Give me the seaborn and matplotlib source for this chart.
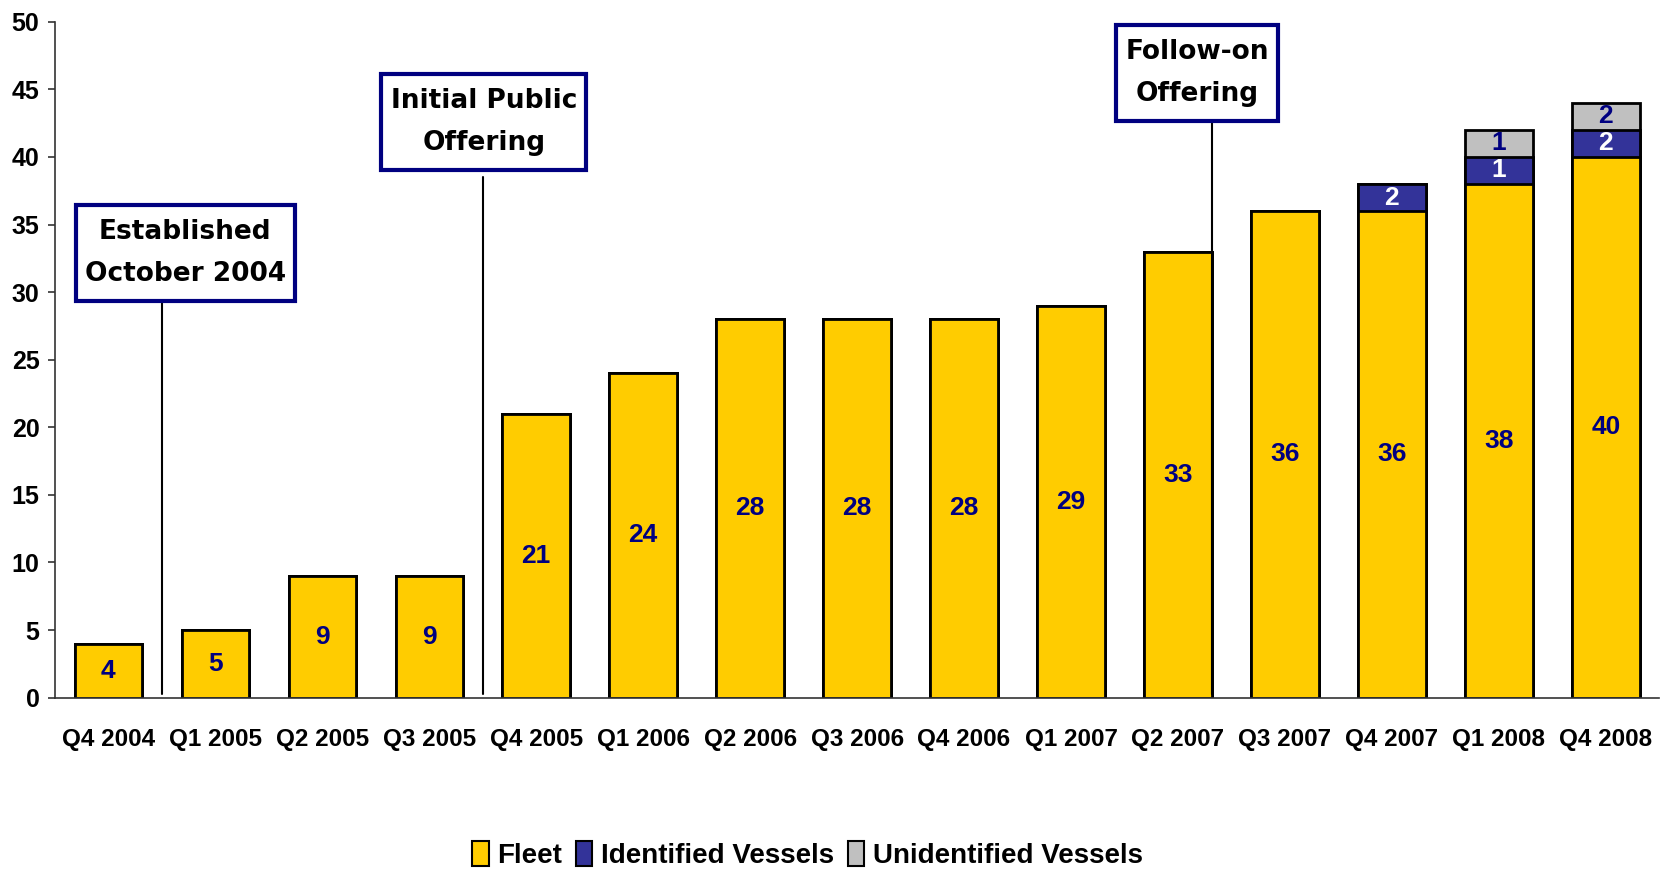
import matplotlib
matplotlib.use("Agg")
import matplotlib.pyplot as plt
import seaborn as sns
import pandas as pd
import numpy as np
from matplotlib.patches import Patch

quarters = ["Q4 2004", "Q1 2005", "Q2 2005", "Q3 2005", "Q4 2005", "Q1 2006",
            "Q2 2006", "Q3 2006", "Q4 2006", "Q1 2007", "Q2 2007", "Q3 2007",
            "Q4 2007", "Q1 2008", "Q4 2008"]
fleet = [4, 5, 9, 9, 21, 24, 28, 28, 28, 29, 33, 36, 36, 38, 40]
# segment heights as drawn in the chart
identified = [0, 0, 0, 0, 0, 0, 0, 0, 0, 0, 0, 0, 2, 2, 2]
unidentified = [0, 0, 0, 0, 0, 0, 0, 0, 0, 0, 0, 0, 0, 2, 2]
# segment labels as printed in the chart
identified_labels = ["", "", "", "", "", "", "", "", "", "", "", "", "2", "1", "2"]
unidentified_labels = ["", "", "", "", "", "", "", "", "", "", "", "", "", "1", "2"]
series_names = ["Fleet", "Identified Vessels", "Unidentified Vessels"]
series_colors = ["#FFCC00", "#333399", "#C0C0C0"]
label_colors = ["#000080", "white", "#000080"]
events = ["Established\nOctober 2004", "Initial Public\nOffering", "Follow-on\nOffering"]

sns.set_theme(style="white")
narrow = ["Liberation Sans Narrow", "Liberation Sans", "DejaVu Sans"]
plt.rcParams["font.family"] = narrow
plt.rcParams["text.color"] = "black"
plt.rcParams["xtick.color"] = "black"
plt.rcParams["ytick.color"] = "black"

df = pd.DataFrame({"quarter": quarters, "fleet": fleet,
                   "identified": identified, "unidentified": unidentified})
df["lvl2"] = df["fleet"] + df["identified"]
df["lvl3"] = df["lvl2"] + df["unidentified"]

fig = plt.figure(figsize=(16.61, 8.71), dpi=100)
ax = fig.add_axes([0.033, 0.199, 0.966, 0.776])

W = 0.63
for col, color in [("lvl3", series_colors[2]), ("lvl2", series_colors[1]), ("fleet", series_colors[0])]:
    sns.barplot(data=df, x="quarter", y=col, order=quarters, color=color, width=W,
                edgecolor="black", linewidth=2, saturation=1, ax=ax, zorder=2)

# value labels
for i in range(len(quarters)):
    f, idv, un = fleet[i], identified[i], unidentified[i]
    ax.text(i, f / 2, str(f), ha="center", va="center", color=label_colors[0],
            fontsize=19, fontweight="bold", zorder=5)
    if idv:
        ax.text(i, f + idv / 2, identified_labels[i], ha="center", va="center",
                color=label_colors[1], fontsize=19, fontweight="bold", zorder=5)
    if un:
        ax.text(i, f + idv + un / 2, unidentified_labels[i], ha="center", va="center",
                color=label_colors[2], fontsize=19, fontweight="bold", zorder=5)

ax.set_xlim(-0.5, len(quarters) - 0.5)
ax.set_ylim(0, 50)
ax.set_yticks(np.arange(0, 51, 5))
ax.set_xlabel("")
ax.set_ylabel("")
for s in ["top", "right"]:
    ax.spines[s].set_visible(False)
for s in ["left", "bottom"]:
    ax.spines[s].set_color("#333333")
    ax.spines[s].set_linewidth(1.2)
    ax.spines[s].set_zorder(6)

ax.set_xticks(np.arange(-0.5, len(quarters), 1.0), minor=True)
ax.tick_params(axis="x", which="major", length=0, pad=22, labelsize=17.5)
ax.tick_params(axis="x", which="minor", length=7, width=1.2, color="#333333", direction="out")
ax.tick_params(axis="y", which="major", length=5, width=1.2, color="#333333", direction="out",
               pad=6, labelsize=18, left=True)
for lab in ax.get_xticklabels() + ax.get_yticklabels():
    lab.set_fontweight("bold")
ax.grid(False)

# event annotations
ann_font = ["DejaVu Sans"]
ev_pos = [(0.50, 0.72, 32.9), (3.50, 3.51, 42.6), (10.32, 10.18, 46.2)]
ev_line_top = [29.3, 38.5, 42.6]
for (lx, tx, ty), txt, ltop in zip(ev_pos, events, ev_line_top):
    ax.plot([lx, lx], [0.3, ltop], color="black", lw=1.5, zorder=4)
    ax.text(tx, ty, txt, ha="center", va="center", fontsize=19, family=ann_font,
            fontweight="bold", linespacing=1.8, zorder=7,
            bbox=dict(boxstyle="square,pad=0.35", fc="white", ec="#000080", lw=3,
                      mutation_aspect=1.5))

handles = [Patch(facecolor=c, edgecolor="black", linewidth=1.5) for c in series_colors]
leg = fig.legend(handles, series_names, loc="center", bbox_to_anchor=(0.486, 0.018),
                 ncol=3, frameon=False, handlelength=0.6, handleheight=1.0,
                 handletextpad=0.3, columnspacing=0.5,
                 prop={"size": 20, "weight": "bold", "family": narrow})

fig.savefig("out.png", dpi=100)
